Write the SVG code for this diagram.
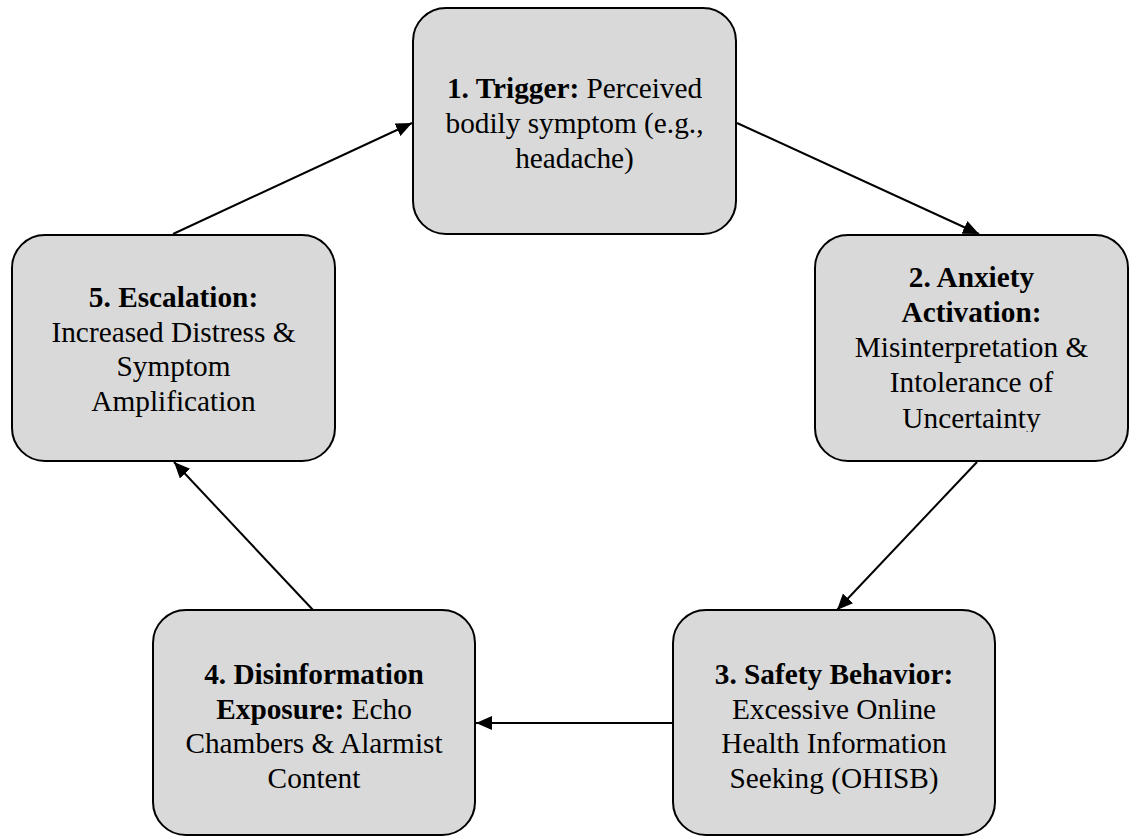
<svg xmlns="http://www.w3.org/2000/svg" width="1131" height="836" viewBox="0 0 1131 836">
<style>
.box{fill:#d9d9d9;stroke:#000;stroke-width:2}
.t{font-family:"Liberation Serif","Times New Roman",serif;font-size:29.3px;fill:#000;text-anchor:middle}
.b{font-weight:bold}
.c{fill:none;stroke:#000;stroke-width:2}
</style>
<defs>
<marker id="ah" markerUnits="userSpaceOnUse" markerWidth="16" markerHeight="14" refX="16" refY="7" orient="auto">
<path d="M0,0 L16,7 L0,14 z" fill="#000"/>
</marker>
<clipPath id="clip2"><rect x="815" y="235" width="313" height="197"/></clipPath>
</defs>
<rect width="1131" height="836" fill="#fff"/>
<g id="node1">
<rect class="box" x="413" y="8" width="323" height="226" rx="33" ry="33"/>
<text class="t" x="574.5" y="97.5"><tspan class="b">1. Trigger:</tspan> Perceived</text>
<text class="t" x="574.5" y="132.5">bodily symptom (e.g.,</text>
<text class="t" x="574.5" y="167.5">headache)</text>
</g>
<g id="node2">
<rect class="box" x="815" y="235" width="313" height="226" rx="33" ry="33"/>
<g clip-path="url(#clip2)">
<text class="t b" x="971.5" y="287">2. Anxiety</text>
<text class="t b" x="971.5" y="322">Activation:</text>
<text class="t" x="971.5" y="357">Misinterpretation &amp;</text>
<text class="t" x="971.5" y="392">Intolerance of</text>
<text class="t" x="971.5" y="427.5">Uncertainty</text>
</g>
</g>
<g id="node3">
<rect class="box" x="673" y="610" width="322" height="225" rx="33" ry="33"/>
<text class="t b" x="834" y="684">3. Safety Behavior:</text>
<text class="t" x="834" y="718.5">Excessive Online</text>
<text class="t" x="834" y="753">Health Information</text>
<text class="t" x="834" y="787.5">Seeking (OHISB)</text>
</g>
<g id="node4">
<rect class="box" x="153" y="610" width="322" height="225" rx="33" ry="33"/>
<text class="t b" x="314" y="684">4. Disinformation</text>
<text class="t" x="314" y="718.5"><tspan class="b">Exposure:</tspan> Echo</text>
<text class="t" x="314" y="753">Chambers &amp; Alarmist</text>
<text class="t" x="314" y="787.5">Content</text>
</g>
<g id="node5">
<rect class="box" x="12" y="235" width="323" height="226" rx="33" ry="33"/>
<text class="t b" x="173.5" y="306.5">5. Escalation:</text>
<text class="t" x="173.5" y="341.5">Increased Distress &amp;</text>
<text class="t" x="173.5" y="376">Symptom</text>
<text class="t" x="173.5" y="410.5">Amplification</text>
</g>
<g id="connectors">
<line class="c" x1="737" y1="123" x2="979" y2="234" marker-end="url(#ah)"/>
<line class="c" x1="977" y1="462" x2="837" y2="610" marker-end="url(#ah)"/>
<line class="c" x1="673" y1="723" x2="476" y2="723" marker-end="url(#ah)"/>
<line class="c" x1="313" y1="610" x2="174" y2="462" marker-end="url(#ah)"/>
<line class="c" x1="173" y1="234" x2="412" y2="123" marker-end="url(#ah)"/>
</g>
</svg>
